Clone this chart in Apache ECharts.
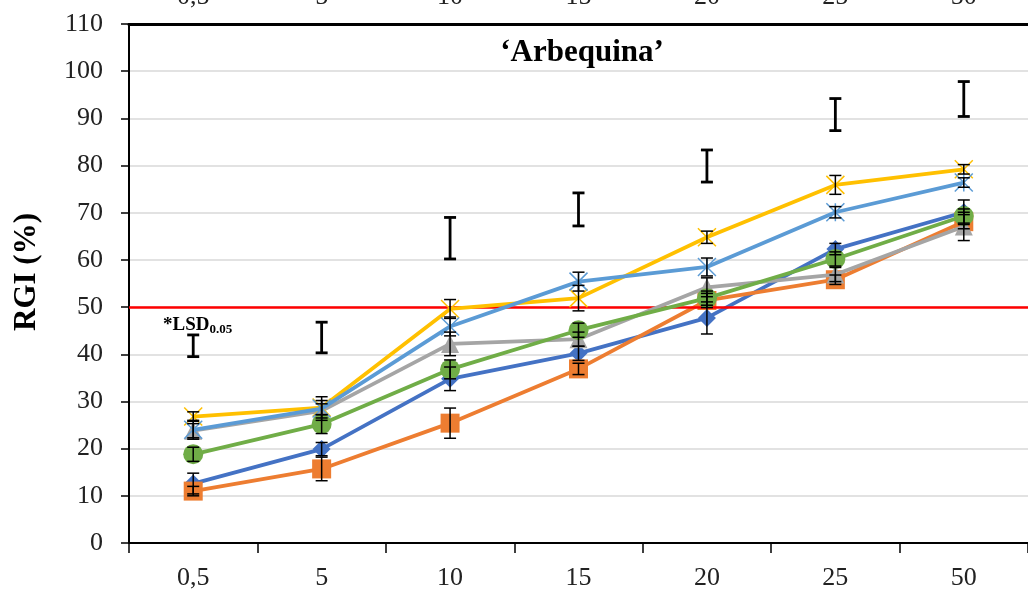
<!DOCTYPE html>
<html><head><meta charset="utf-8">
<script src="https://cdn.jsdelivr.net/npm/echarts@6/dist/echarts.min.js"></script>
<style>html,body{margin:0;padding:0;background:#fff}#c{width:1028px;height:598px}</style>
</head><body><div id="c"></div>
<script>
var categories = ['0,5','5','10','15','20','25','50'];
var yTicks = [0,10,20,30,40,50,60,70,80,90,100,110];
var blueVals = [12.6, 19.9, 34.8, 40.2, 47.7, 62.3, 70.1];
var blueErr = [2.2, 1.4, 2.5, 1.5, 3.4, 1.2, 2.6];
var orangeVals = [11.0, 15.7, 25.4, 36.9, 51.4, 55.8, 68.1];
var orangeErr = [1.0, 2.5, 3.2, 1.2, 1.5, 1.0, 1.5];
var grayVals = [23.8, 28.0, 42.2, 43.2, 54.2, 56.9, 67.1];
var grayErr = [1.5, 1.5, 2.5, 1.5, 2.0, 1.5, 3.0];
var yellowVals = [26.8, 28.7, 49.6, 51.9, 64.8, 75.9, 79.2];
var yellowErr = [1.0, 1.5, 2.0, 2.7, 1.3, 2.0, 1.0];
var lightBlueVals = [24.0, 28.5, 45.9, 55.4, 58.5, 70.1, 76.4];
var lightBlueErr = [2.0, 2.5, 2.0, 2.0, 1.9, 1.2, 1.0];
var greenVals = [18.8, 25.2, 36.8, 45.1, 51.9, 60.2, 69.3];
var greenErr = [1.5, 2.0, 2.0, 1.5, 1.5, 1.5, 1.5];
var lsdLow = [39.5, 40.3, 60.2, 67.2, 76.5, 87.4, 90.4];
var lsdHigh = [44.1, 46.8, 69.0, 74.2, 83.3, 94.2, 97.8];
var refLine = 50;

var FONT = 'Liberation Serif';
var chart = echarts.init(document.getElementById('c'), null, {renderer:'canvas'});

var seriesDefs = [
  {name:'A', vals: blueVals, err: blueErr, color:'#4472C4', symbol:'diamond', size:18},
  {name:'B', vals: orangeVals, err: orangeErr, color:'#ED7D31', symbol:'rect', size:19},
  {name:'C', vals: grayVals, err: grayErr, color:'#A5A5A5', symbol:'triangle', size:18},
  {name:'D', vals: yellowVals, err: yellowErr, color:'#FFC000', symbol:'path://M0,0L10,10M10,0L0,10', size:18, stroke:true},
  {name:'E', vals: lightBlueVals, err: lightBlueErr, color:'#5B9BD5', symbol:'path://M0,0L10,10M10,0L0,10M5,0L5,10', size:18, stroke:true},
  {name:'F', vals: greenVals, err: greenErr, color:'#70AD47', symbol:'circle', size:20}
];

var series = [];
var errData = [];
seriesDefs.forEach(function(s, si){
  series.push({
    name: s.name, type:'line', data: s.vals, symbol: s.symbol, symbolSize: s.size,
    showAllSymbol: true, z: 3 + si,
    lineStyle: {color: s.color, width: 3.8},
    itemStyle: s.stroke ? {color: 'rgba(0,0,0,0)', borderColor: s.color, borderWidth: 1.5} : {color: s.color, borderWidth: 0},
    emphasis: {disabled: true}
  });
  s.vals.forEach(function(v, i){ errData.push([i, v - s.err[i], v + s.err[i], 1]); });
});
lsdLow.forEach(function(l, i){ errData.push([i, l, lsdHigh[i], 2]); });

series.push({
  type:'custom', z: 20, silent: true,
  data: errData,
  renderItem: function(params, api){
    var lo = api.coord([api.value(0), api.value(1)]);
    var hi = api.coord([api.value(0), api.value(2)]);
    var lsd = api.value(3) === 2;
    var hw = 6;
    var w = lsd ? 2.8 : 1.5;
    var st = {stroke:'#000', lineWidth: w};
    return {type:'group', children:[
      {type:'line', shape:{x1:lo[0], y1:lo[1], x2:hi[0], y2:hi[1]}, style: st},
      {type:'line', shape:{x1:lo[0]-hw, y1:lo[1], x2:lo[0]+hw, y2:lo[1]}, style: st},
      {type:'line', shape:{x1:hi[0]-hw, y1:hi[1], x2:hi[0]+hw, y2:hi[1]}, style: st}
    ]};
  }
});

series.push({
  type:'line', data: [], z: 15,
  markLine: {silent:true, symbol:['none','none'], label:{show:false},
    lineStyle:{color:'#FF0000', width:2.5, type:'solid'},
    data:[{yAxis: refLine}]}
});

var option = {
  animation: false,
  grid: {left:129, right:0, top:24, bottom:55, containLabel:false, outerBoundsMode:'none'},
  xAxis: [
    {type:'category', data: categories, position:'bottom', boundaryGap:true,
     axisLine:{lineStyle:{color:'#000', width:2}},
     axisTick:{show:true, inside:false, length:10, lineStyle:{color:'#000', width:1.5}},
     axisLabel:{fontFamily:FONT, fontSize:26, color:'#222', margin:22},
     splitLine:{show:false}},
    {type:'category', data: categories, position:'top', boundaryGap:true,
     axisLine:{show:true, lineStyle:{color:'#000', width:3}},
     axisTick:{show:false},
     axisLabel:{fontFamily:FONT, fontSize:26, color:'#222', margin:14},
     splitLine:{show:false}}
  ],
  yAxis: {type:'value', min:0, max:110, interval:10,
    axisLine:{show:true, lineStyle:{color:'#000', width:2}},
    axisTick:{show:true, inside:false, length:8, lineStyle:{color:'#000', width:1.5}},
    axisLabel:{fontFamily:FONT, fontSize:26, color:'#222', margin:26,
      formatter: function(v){ return yTicks.indexOf(v) >= 0 ? String(v) : ''; }},
    splitLine:{show:true, lineStyle:{color:'#D9D9D9', width:1.5}}
  },
  graphic: [
    {type:'text', x:582, y:53, style:{text:'\u2018Arbequina\u2019', font:'bold 31px "Liberation Serif"', fill:'#000', align:'center', verticalAlign:'middle'}, z:30},
    {type:'text', rotation: Math.PI/2, x: 27, y: 272, style:{text:'RGI (%)', font:'bold 31px "Liberation Serif"', fill:'#000', align:'center', verticalAlign:'middle'}, z:30},
    {type:'text', x:163, y:325, style:{
      text:'{a|*LSD}{b|0.05}',
      rich:{a:{font:'bold 19px "Liberation Serif"', fill:'#000', verticalAlign:'bottom'}, b:{font:'bold 13px "Liberation Serif"', fill:'#000', verticalAlign:'bottom', padding:[0,0,-2,0]}},
      verticalAlign:'middle'}, z:30}
  ],
  series: series
};
chart.setOption(option);
</script></body></html>
